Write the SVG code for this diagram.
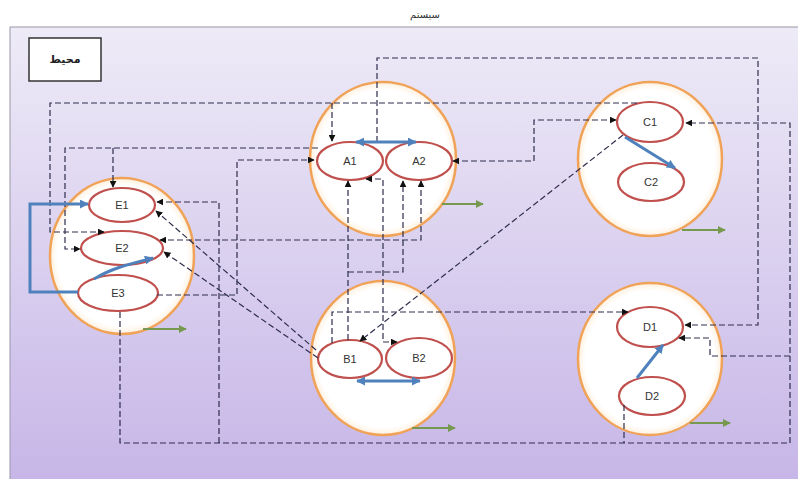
<svg xmlns="http://www.w3.org/2000/svg" width="798" height="479" viewBox="0 0 798 479">
<style>
.outer{fill:url(#og);stroke:#f0a358;stroke-width:2.5}
.inner{fill:#ffffff;stroke:#c0504d;stroke-width:2.2}
.lbl{font-family:"Liberation Sans",Arial,sans-serif;font-size:11px;fill:#333;text-anchor:middle}
.dash{fill:none;stroke:#2e2e4e;stroke-width:1.2;stroke-dasharray:6 3}
.blue{fill:none;stroke:#4f81bd;stroke-width:3}
.green{fill:none;stroke:#77994f;stroke-width:2}
</style>
<defs>
<linearGradient id="bg" x1="0" y1="0" x2="0" y2="1">
<stop offset="0" stop-color="#eeebf7"/>
<stop offset="1" stop-color="#c6b5e7"/>
</linearGradient>
<radialGradient id="og" cx="0.5" cy="0.5" r="0.5">
<stop offset="0.9" stop-color="#ffffff"/>
<stop offset="1" stop-color="#fef0de"/>
</radialGradient>
<marker id="ad" viewBox="0 0 10 10" refX="9" refY="5" markerWidth="7" markerHeight="7" markerUnits="userSpaceOnUse" orient="auto-start-reverse">
<path d="M0,0 L10,5 L0,10 z" fill="#111"/>
</marker>
<marker id="ab" viewBox="0 0 10 10" refX="9" refY="5" markerWidth="9" markerHeight="9" markerUnits="userSpaceOnUse" orient="auto-start-reverse">
<path d="M0,0 L10,5 L0,10 z" fill="#4f81bd"/>
</marker>
<marker id="ag" viewBox="0 0 10 10" refX="9" refY="5" markerWidth="8" markerHeight="8" markerUnits="userSpaceOnUse" orient="auto">
<path d="M0,0 L10,5 L0,10 z" fill="#77994f"/>
</marker>
</defs>
<rect x="0" y="0" width="798" height="479" fill="#ffffff"/>
<text x="425" y="18" font-family="DejaVu Sans,sans-serif" font-size="10" fill="#333" text-anchor="middle">سیستم</text>
<rect x="10" y="27" width="800" height="460" fill="url(#bg)" stroke="#9a98a8" stroke-width="1"/>

<g id="env">
<rect x="29" y="38" width="72" height="43" fill="#ffffff" stroke="#333" stroke-width="1.5"/>
<text x="65" y="63" font-family="DejaVu Sans,sans-serif" font-size="11" font-weight="bold" fill="#222" text-anchor="middle">محیط</text>
</g>

<g id="clusterE">
<ellipse class="outer" cx="122" cy="256" rx="72" ry="78"/>
<g id="E1"><ellipse class="inner" cx="122" cy="205" rx="33" ry="17"/><text class="lbl" x="122" y="209">E1</text></g>
<g id="E2"><ellipse class="inner" cx="122" cy="248" rx="41" ry="17"/><text class="lbl" x="122" y="252">E2</text></g>
<g id="E3"><ellipse class="inner" cx="118" cy="293" rx="40" ry="18"/><text class="lbl" x="118" y="297">E3</text></g>
</g>

<g id="clusterA">
<ellipse class="outer" cx="383" cy="159" rx="73" ry="77"/>
<g id="A1"><ellipse class="inner" cx="350" cy="161" rx="33" ry="19"/><text class="lbl" x="350" y="165">A1</text></g>
<g id="A2"><ellipse class="inner" cx="419" cy="161" rx="33" ry="19"/><text class="lbl" x="419" y="165">A2</text></g>
</g>

<g id="clusterB">
<ellipse class="outer" cx="383" cy="358" rx="72" ry="77"/>
<g id="B1"><ellipse class="inner" cx="350" cy="359" rx="32" ry="19"/><text class="lbl" x="350" y="363">B1</text></g>
<g id="B2"><ellipse class="inner" cx="419" cy="358" rx="33" ry="20"/><text class="lbl" x="419" y="362">B2</text></g>
</g>

<g id="clusterC">
<ellipse class="outer" cx="650" cy="159" rx="72" ry="77"/>
<g id="C1"><ellipse class="inner" cx="650" cy="122" rx="33" ry="20"/><text class="lbl" x="650" y="126">C1</text></g>
<g id="C2"><ellipse class="inner" cx="651" cy="182" rx="33" ry="19"/><text class="lbl" x="651" y="186">C2</text></g>
</g>

<g id="clusterD">
<ellipse class="outer" cx="650" cy="359" rx="72" ry="76"/>
<g id="D1"><ellipse class="inner" cx="650" cy="327" rx="33" ry="20"/><text class="lbl" x="650" y="331">D1</text></g>
<g id="D2"><ellipse class="inner" cx="652" cy="396" rx="33" ry="19"/><text class="lbl" x="652" y="400">D2</text></g>
</g>

<g id="connectors">
<path class="dash" d="M377,142 V58 H758 V325 H685" marker-end="url(#ad)"/>
<path class="dash" d="M637,103 H50 V232 H104" marker-end="url(#ad)"/>
<path class="dash" d="M332,103 V141" marker-end="url(#ad)"/>
<path class="dash" d="M318,148 H65 V249 H80" marker-end="url(#ad)"/>
<path class="dash" d="M113,148 V187" marker-end="url(#ad)"/>
<path class="dash" d="M157,295 H237 V160 H314" marker-end="url(#ad)"/>
<path class="dash" d="M421,181 V240 H160" marker-start="url(#ad)" marker-end="url(#ad)"/>
<path class="dash" d="M348,340 V181" marker-end="url(#ad)"/>
<path class="dash" d="M348,272 H403 V181" marker-end="url(#ad)"/>
<path class="dash" d="M366,179 H383 V342 H397" marker-start="url(#ad)" marker-end="url(#ad)"/>
<path class="dash" d="M332,343 V312 H628" marker-end="url(#ad)"/>
<path class="dash" d="M623,135 L360,341" marker-end="url(#ad)"/>
<path class="dash" d="M316,350 L156,211" marker-end="url(#ad)"/>
<path class="dash" d="M318,358 L164,252" marker-end="url(#ad)"/>
<path class="dash" d="M219,443 V202 H157" marker-end="url(#ad)"/>
<path class="dash" d="M120,312 V443 H790 V123 H686" marker-end="url(#ad)"/>
<path class="dash" d="M624,405 V443"/>
<path class="dash" d="M790,356 H710 V338 H679" marker-end="url(#ad)"/>
<path class="dash" d="M453,161 H534 V120 H616" marker-start="url(#ad)" marker-end="url(#ad)"/>

<path class="blue" d="M78,292 H30 V204 H88" marker-end="url(#ab)"/>
<path class="blue" d="M94,279 C112,268 130,264 153,258" marker-end="url(#ab)"/>
<path class="blue" d="M356,142 H416" marker-start="url(#ab)" marker-end="url(#ab)"/>
<path class="blue" d="M357,381 H420" marker-start="url(#ab)" marker-end="url(#ab)"/>
<path class="blue" d="M625,137 L675,168" marker-end="url(#ab)"/>
<path class="blue" d="M637,378 L663,345" marker-end="url(#ab)"/>

<path class="green" d="M143,329 H186" marker-end="url(#ag)"/>
<path class="green" d="M442,204 H483" marker-end="url(#ag)"/>
<path class="green" d="M412,428 H455" marker-end="url(#ag)"/>
<path class="green" d="M682,230 H725" marker-end="url(#ag)"/>
<path class="green" d="M690,423 H730" marker-end="url(#ag)"/>
</g>
</svg>
